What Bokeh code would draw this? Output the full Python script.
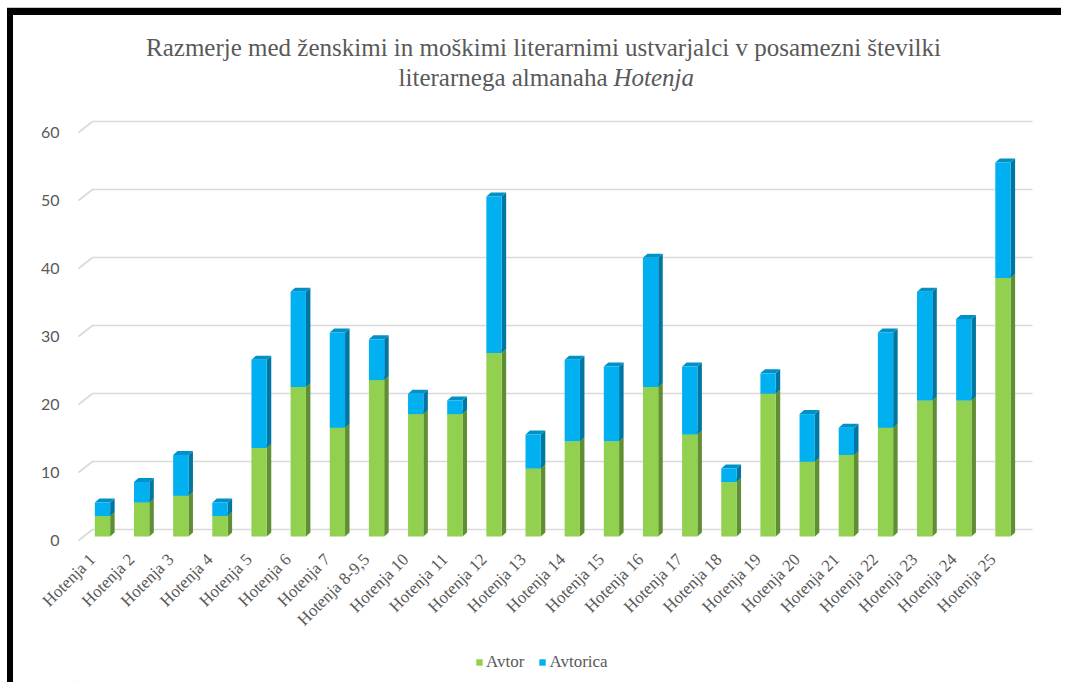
import math
from bokeh.plotting import figure
from bokeh.layouts import column, row
from bokeh.models import (Range1d, LinearAxis, FixedTicker, ColumnDataSource,
                          Legend, LegendItem, Div)
from bokeh.core.properties import value
from bokeh.embed import file_html
from bokeh.resources import INLINE

# ---------------- data ----------------
categories = ["Hotenja 1", "Hotenja 2", "Hotenja 3", "Hotenja 4", "Hotenja 5",
              "Hotenja 6", "Hotenja 7", "Hotenja 8-9,5", "Hotenja 10", "Hotenja 11",
              "Hotenja 12", "Hotenja 13", "Hotenja 14", "Hotenja 15", "Hotenja 16",
              "Hotenja 17", "Hotenja 18", "Hotenja 19", "Hotenja 20", "Hotenja 21",
              "Hotenja 22", "Hotenja 23", "Hotenja 24", "Hotenja 25"]
avtor = [3, 5, 6, 3, 13, 22, 16, 23, 18, 18, 27, 10, 14, 14, 22, 15, 8, 21, 11, 12,
         16, 20, 20, 38]
avtorica = [2, 3, 6, 2, 13, 14, 14, 6, 3, 2, 23, 5, 12, 11, 19, 10, 2, 3, 7, 4,
            14, 16, 12, 17]
y_ticks = [0, 10, 20, 30, 40, 50, 60]
series_names = ["Avtor", "Avtorica"]
title_line1 = "Razmerje med ženskimi in moškimi literarnimi ustvarjalci v posamezni številki"
title_line2_plain = "literarnega almanaha"
title_line2_italic = "Hotenja"

# ---------------- geometry (page pixels) ----------------
PX_X = 39.15          # px per category
PX_Y = 6.8            # px per unit
X0_PX = 102.0         # page x of first bar centre
Y0_PX = 536.0         # page y of value 0 (bar floor)
MARGIN_L, MARGIN_T = 7, 7
GRAY_T = 1
BAND_L, BAND_T = 6, 7
CANVAS_X, CANVAS_Y = MARGIN_L + BAND_L, MARGIN_T + GRAY_T + BAND_T   # 13, 15
W = 1046
H_MAIN, H_LEG = 630, 37
FRAME_L, FRAME_R = 74, 1040
FRAME_T, FRAME_B = CANVAS_Y, 545


def px_to_x(px):
    return (px - X0_PX) / PX_X


def py_to_y(py):
    return (Y0_PX - py) / PX_Y


BAR_W = 15.3 / PX_X
DX = 4.5 / PX_X       # 3D depth offset
DY = 4.0 / PX_Y

GREEN, GREEN_SIDE, GREEN_TOP = "#92D050", "#5F8E33", "#7AB43F"
BLUE, BLUE_SIDE, BLUE_TOP = "#00B0F0", "#0076A3", "#0091C6"
TEXT_COL = "#595959"
SERIF = "Liberation Serif"

x_range = Range1d(px_to_x(FRAME_L), px_to_x(FRAME_R))
y_range = Range1d(py_to_y(FRAME_B), py_to_y(FRAME_T))

p = figure(width=W, height=H_MAIN, x_range=x_range, y_range=y_range,
           x_axis_type=None, y_axis_type=None, output_backend="svg",
           toolbar_location=None, min_border_left=FRAME_L - CANVAS_X,
           min_border_right=(CANVAS_X + W) - FRAME_R, min_border_top=0,
           min_border_bottom=(CANVAS_Y + H_MAIN) - FRAME_B, margin=0)
p.outline_line_color = None
p.background_fill_color = "white"
p.border_fill_color = "white"
p.grid.visible = False

# ---------------- axes ----------------
lab_shift_y = 4.0 / PX_Y
p.extra_y_ranges = {"ylab": Range1d(y_range.start + lab_shift_y, y_range.end + lab_shift_y)}
yaxis = LinearAxis(y_range_name="ylab", ticker=FixedTicker(ticks=y_ticks))
yaxis.axis_line_color = None
yaxis.major_tick_line_color = None
yaxis.minor_tick_line_color = None
yaxis.major_label_standoff = 9
yaxis.major_label_text_font = "Lato"
yaxis.major_label_text_font_size = "16px"
yaxis.major_label_text_color = TEXT_COL
p.add_layout(yaxis, "left")

lab_shift_x = 10.0 / PX_X
p.extra_x_ranges = {"xlab": Range1d(x_range.start + lab_shift_x, x_range.end + lab_shift_x)}
idx = list(range(len(categories)))
xaxis = LinearAxis(x_range_name="xlab", ticker=FixedTicker(ticks=idx))
xaxis.major_label_overrides = {i: c for i, c in enumerate(categories)}
xaxis.major_label_orientation = math.pi / 4
xaxis.axis_line_color = None
xaxis.major_tick_line_color = None
xaxis.minor_tick_line_color = None
xaxis.major_label_standoff = 5
xaxis.major_label_text_font = SERIF
xaxis.major_label_text_font_size = "17px"
xaxis.major_label_text_color = TEXT_COL
p.add_layout(xaxis, "below")

# ---------------- gridlines (3D back wall) ----------------
gx_front, gx_back, gx_end = px_to_x(78), px_to_x(92), px_to_x(1032)
g_front_dy, g_back_dy = -4.0 / PX_Y, 7.0 / PX_Y
p.multi_line(xs=[[gx_front, gx_back, gx_end] for _ in y_ticks],
             ys=[[v + g_front_dy, v + g_back_dy, v + g_back_dy] for v in y_ticks],
             line_color="#D9D9D9", line_width=1.6)

# ---------------- bars ----------------
totals = [a + b for a, b in zip(avtor, avtorica)]
src = ColumnDataSource(dict(x=idx, avtor=avtor, total=totals,
                            zero=[0] * len(idx)))


def side_patches(bottoms, tops):
    xs, ys = [], []
    for i, b, t in zip(idx, bottoms, tops):
        r = i + BAR_W / 2
        xs.append([r, r + DX, r + DX, r])
        ys.append([b, b + DY, t + DY, t])
    return xs, ys


def top_patches(tops):
    xs, ys = [], []
    for i, t in zip(idx, tops):
        l, r = i - BAR_W / 2, i + BAR_W / 2
        xs.append([l, l + DX, r + DX, r])
        ys.append([t, t + DY, t + DY, t])
    return xs, ys


gxs, gys = side_patches([0] * len(idx), avtor)
p.patches(gxs, gys, fill_color=GREEN_SIDE, line_color=None)
gtx, gty = top_patches(avtor)
p.patches(gtx, gty, fill_color=GREEN_TOP, line_color=None)
p.vbar(x="x", width=BAR_W, bottom="zero", top="avtor", source=src,
       fill_color=GREEN, line_color=None)

bxs, bys = side_patches(avtor, totals)
p.patches(bxs, bys, fill_color=BLUE_SIDE, line_color=None)
btx, bty = top_patches(totals)
p.patches(btx, bty, fill_color=BLUE_TOP, line_color=None)
p.vbar(x="x", width=BAR_W, bottom="avtor", top="total", source=src,
       fill_color=BLUE, line_color=None)

# ---------------- title ----------------
TITLE_SIZE = "25px"
p.text(x=[px_to_x(543)], y=[py_to_y(47)], text=[title_line1],
       text_font=value(SERIF), text_font_size=TITLE_SIZE, text_color=TEXT_COL,
       text_align="center", text_baseline="middle")
p.text(x=[px_to_x(607)], y=[py_to_y(77)], text=[title_line2_plain],
       text_font=value(SERIF), text_font_size=TITLE_SIZE, text_color=TEXT_COL,
       text_align="right", text_baseline="middle")
p.text(x=[px_to_x(613)], y=[py_to_y(77)], text=[title_line2_italic],
       text_font=value(SERIF), text_font_size=TITLE_SIZE, text_color=TEXT_COL,
       text_font_style="italic", text_align="left", text_baseline="middle")

# ---------------- legend (own strip below the chart) ----------------
pl = figure(width=W, height=H_LEG, x_range=Range1d(0, W), y_range=Range1d(0, H_LEG),
            x_axis_type=None, y_axis_type=None, output_backend="svg",
            toolbar_location=None, min_border=0, margin=0)
pl.outline_line_color = None
pl.grid.visible = False
offscreen = ColumnDataSource(dict(x=[-1000], top=[1]))
lg_green = pl.vbar(x="x", top="top", width=1, source=offscreen, fill_color=GREEN, line_color=None)
lg_blue = pl.vbar(x="x", top="top", width=1, source=offscreen, fill_color=BLUE, line_color=None)
legend = Legend(items=[LegendItem(label=series_names[0], renderers=[lg_green]),
                       LegendItem(label=series_names[1], renderers=[lg_blue])],
                orientation="horizontal", location=(401, 10))
legend.label_text_font = SERIF
legend.label_text_font_size = "17px"
legend.label_text_color = TEXT_COL
legend.glyph_width = 8
legend.glyph_height = 8
legend.label_standoff = 3
legend.spacing = 14
legend.padding = 4
legend.margin = 0
legend.border_line_color = None
legend.background_fill_alpha = 0
pl.add_layout(legend, "center")

# ---------------- black frame bands ----------------
gray_line = Div(width=1061 - MARGIN_L, height=GRAY_T, margin=0,
                styles={"background-color": "#c8c8c8"})
top_band = Div(width=1061 - MARGIN_L, height=BAND_T, margin=0,
               styles={"background-color": "black"})
left_band = Div(width=BAND_L, height=H_MAIN + H_LEG, margin=0,
                styles={"background-color": "black"})

root = column(gray_line, top_band,
              row(left_band, column(p, pl, spacing=0, margin=0), spacing=0, margin=0),
              spacing=0, margin=(MARGIN_T, 0, 0, MARGIN_L))

open("out.html", "w").write(file_html(root, INLINE))
